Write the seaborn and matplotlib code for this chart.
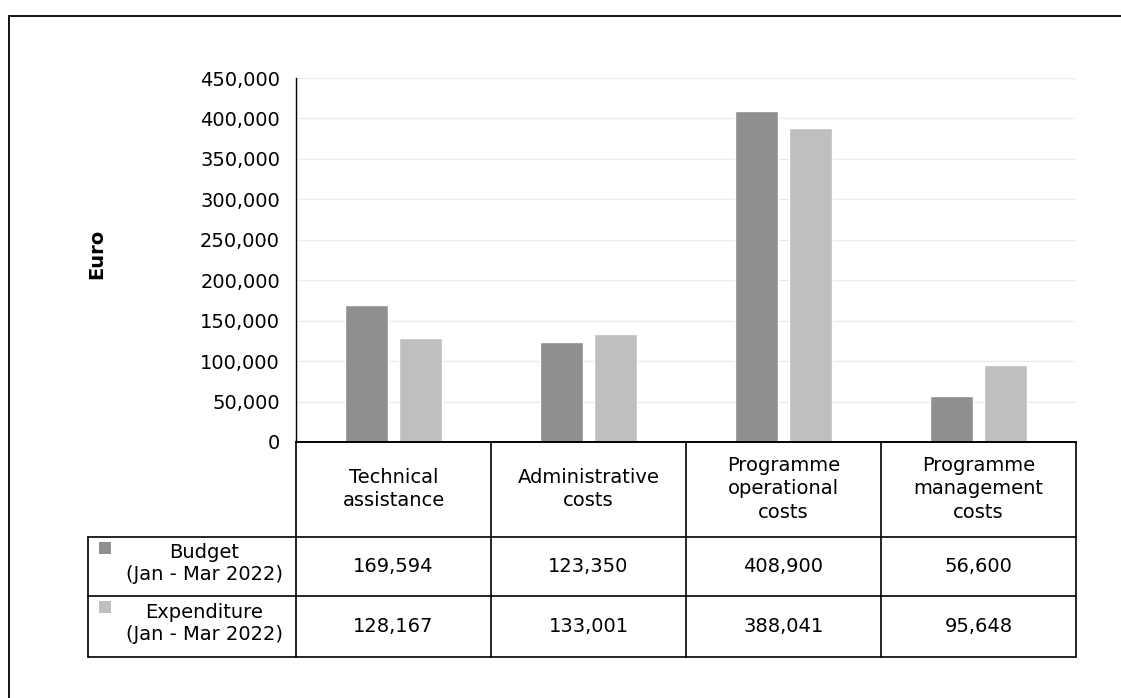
import numpy as np
import pandas as pd
import matplotlib
matplotlib.use("Agg")
import matplotlib.pyplot as plt
import matplotlib.transforms as mtransforms
from matplotlib.lines import Line2D
from matplotlib.patches import Rectangle
import seaborn as sns

# data
categories = ["Technical\nassistance", "Administrative\ncosts",
              "Programme\noperational\ncosts", "Programme\nmanagement\ncosts"]
series = ["Budget\n(Jan - Mar 2022)", "Expenditure\n(Jan - Mar 2022)"]
budget = [169594, 123350, 408900, 56600]
expenditure = [128167, 133001, 388041, 95648]
colors = ["#8f8f8f", "#bfbfbf"]

df = pd.DataFrame({
    "category": categories * 2,
    "series": [series[0]] * 4 + [series[1]] * 4,
    "value": budget + expenditure,
})

sns.set_style("white")
plt.rcParams["font.family"] = ["DejaVu Sans"]
plt.rcParams["text.color"] = "black"
plt.rcParams["axes.labelcolor"] = "black"
plt.rcParams["ytick.color"] = "black"
FS = 14

W, H = 1121, 698
fig = plt.figure(figsize=(W / 100, H / 100), dpi=100)

def fy(y):
    # pixel row from the top -> figure fraction
    return 1 - y / H

ax = fig.add_axes([296 / W, fy(442), (1076 - 296) / W, (442 - 78) / H])
sns.barplot(data=df, x="category", y="value", hue="series", order=categories,
            hue_order=series, palette=colors, width=0.56, gap=0.21,
            saturation=1, legend=False, ax=ax)

ax.set_xlim(-0.5, 3.5)
ax.set_ylim(0, 450000)
ax.set_yticks(np.arange(0, 450001, 50000))
ax.yaxis.set_major_formatter(matplotlib.ticker.FuncFormatter(lambda v, p: f"{v:,.0f}"))
ax.tick_params(axis="y", length=0, pad=11.5, labelsize=FS, labelcolor="black")
ax.set_xticks([])
ax.set_xlabel("")
ax.set_ylabel("Euro", fontsize=FS, fontweight="bold", color="black")
ax.yaxis.set_label_coords((106 - 296) / 780, (442 - 254) / 364)
ax.grid(axis="y", color="#ebebeb", linewidth=1.0)
ax.set_axisbelow(True)
for s in ["top", "right"]:
    ax.spines[s].set_visible(False)
ax.spines["left"].set_color("black")
ax.spines["left"].set_linewidth(1.0)
ax.spines["bottom"].set_color("black")
ax.spines["bottom"].set_linewidth(1.2)

# data table under the plot
blend = mtransforms.blended_transform_factory(ax.transData, fig.transFigure)
lw = 1.2
rows_y = [442, 537, 596, 657]
legend_left = 88 / W

# vertical lines between the category columns
for x in np.arange(-0.5, len(categories) + 0.5, 1.0):
    fig.add_artist(Line2D([x, x], [fy(442), fy(657)], transform=blend,
                          color="black", lw=lw))
# horizontal lines
fig.add_artist(Line2D([296 / W, 1076 / W], [fy(442), fy(442)], color="black", lw=lw))
for y in rows_y[1:]:
    fig.add_artist(Line2D([legend_left, 1076 / W], [fy(y), fy(y)], color="black", lw=lw))
fig.add_artist(Line2D([legend_left, legend_left], [fy(537), fy(657)], color="black", lw=lw))

# header row
for i, cat in enumerate(categories):
    fig.text(i, fy(489), cat, transform=blend, ha="center", va="center",
             fontsize=FS, linespacing=1.3)

# value rows with legend keys
for r, (name, vals, col) in enumerate(zip(series, [budget, expenditure], colors)):
    top, bot = rows_y[r + 1], rows_y[r + 2]
    fig.add_artist(Rectangle((99 / W, fy(top + 17)), 12 / W, 12 / H,
                             transform=fig.transFigure, color=col, lw=0))
    fig.text(204 / W, fy((top + bot) / 2 - 3), name, ha="center", va="center",
             fontsize=FS, linespacing=1.25)
    for i, v in enumerate(vals):
        fig.text(i, fy((top + bot) / 2), f"{v:,}", transform=blend,
                 ha="center", va="center", fontsize=FS)

# outer chart frame
fig.add_artist(Rectangle((9 / W, -0.05), 1.2, fy(16) + 0.05, transform=fig.transFigure,
                         fill=False, edgecolor="black", lw=1.3))

fig.savefig("out.png", dpi=100)
